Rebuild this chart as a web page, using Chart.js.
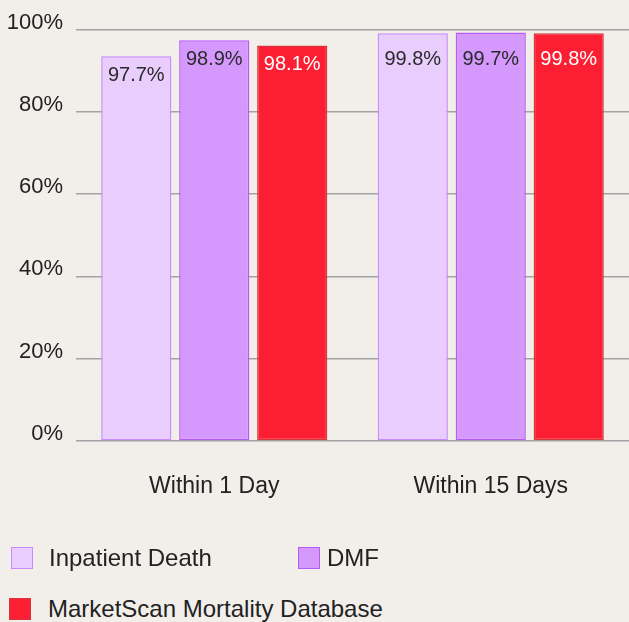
<!DOCTYPE html>
<html>
<head>
<meta charset="utf-8">
<script src="https://cdn.jsdelivr.net/npm/chart.js@4"></script>
<style>
  html, body { margin: 0; padding: 0; background: #f2efea; }
  body { width: 629px; height: 622px; position: relative; overflow: hidden; font-family: "Liberation Sans", Arial, sans-serif; color: #222; }
  #wrap { position: absolute; left: 0; top: 0; width: 629px; height: 552px; }
  .lg-box { position: absolute; width: 20px; height: 20px; border-width: 1.5px; border-style: solid; }
  .lg-text { position: absolute; font-size: 24px; line-height: 26px; white-space: nowrap; color: #222; }
</style>
</head>
<body>
<div id="wrap"><canvas id="c" width="629" height="552"></canvas></div>
<div id="legend"></div>
<script>
// ---- data ----
const categories = ["Within 1 Day", "Within 15 Days"];
const seriesNames = ["Inpatient Death", "DMF", "MarketScan Mortality Database"];
const inpatientDeath = [93.5, 99.1];
const dmf = [97.4, 99.3];
const marketScan = [96.1, 99.1];
const inpatientLabels = ["97.7%", "99.8%"];
const dmfLabels = ["98.9%", "99.7%"];
const marketScanLabels = ["98.1%", "99.8%"];
const yTicks = [0, 20, 40, 60, 80, 100];

// ---- styles ----
const fills = ["#e9cdfd", "#d598fd", "#fc1e33"];
const borders = ["#c98bff", "#b55cf6", "#d9343b"];
const labelColors = ["#2a2a2a", "#2a2a2a", "#ffffff"];
const values = [inpatientDeath, dmf, marketScan];
const labelTexts = [inpatientLabels, dmfLabels, marketScanLabels];

const barLabelPlugin = {
  id: 'barLabels',
  afterDatasetsDraw(chart) {
    const ctx = chart.ctx;
    ctx.save();
    ctx.font = '20px "Liberation Sans", Arial, sans-serif';
    ctx.textAlign = 'center';
    ctx.textBaseline = 'middle';
    chart.data.datasets.forEach((ds, i) => {
      const meta = chart.getDatasetMeta(i);
      meta.data.forEach((el, j) => {
        const y = Math.max(el.y + 19, chart.chartArea.top + 30);
        ctx.fillStyle = labelColors[i];
        ctx.fillText(labelTexts[i][j], el.x, y);
      });
    });
    ctx.restore();
  }
};

new Chart(document.getElementById('c'), {
  type: 'bar',
  data: {
    labels: categories,
    datasets: seriesNames.map((name, i) => ({
      label: name,
      data: values[i],
      backgroundColor: fills[i],
      borderColor: borders[i],
      borderWidth: 1.5,
      borderSkipped: false,
      categoryPercentage: 0.846,
      barPercentage: 0.9
    }))
  },
  options: {
    responsive: false,
    animation: false,
    layout: { padding: { top: 29.5, left: 7, right: 0, bottom: 19.5 } },
    plugins: { legend: { display: false }, tooltip: { enabled: false } },
    scales: {
      x: {
        grid: { display: false, drawTicks: false },
        border: { display: false },
        ticks: {
          color: '#222',
          font: { family: '"Liberation Sans", Arial, sans-serif', size: 23 },
          padding: 32,
          maxRotation: 0
        }
      },
      y: {
        min: 0,
        max: 100,
        afterBuildTicks(axis) { axis.ticks = yTicks.map(v => ({ value: v })); },
        afterFit(axis) { axis.width = 69; axis.paddingTop = 0; axis.paddingBottom = 0; },
        grid: { color: '#a3a3a3', lineWidth: 1.5, drawTicks: false },
        border: { display: false },
        ticks: {
          color: '#222',
          font: { family: '"Liberation Sans", Arial, sans-serif', size: 22 },
          padding: 13,
          labelOffset: -7,
          callback: v => v + '%'
        }
      }
    }
  },
  plugins: [barLabelPlugin]
});

// ---- legend (HTML, built from series arrays) ----
const legendPos = [
  { box: [11, 547], text: [49, 545] },
  { box: [298, 547], text: [327, 545] },
  { box: [9, 598], text: [48, 596] }
];
const lg = document.getElementById('legend');
seriesNames.forEach((name, i) => {
  const b = document.createElement('div');
  b.className = 'lg-box';
  b.style.left = legendPos[i].box[0] + 'px';
  b.style.top = legendPos[i].box[1] + 'px';
  b.style.background = fills[i];
  b.style.borderColor = borders[i];
  lg.appendChild(b);
  const t = document.createElement('div');
  t.className = 'lg-text';
  t.style.left = legendPos[i].text[0] + 'px';
  t.style.top = legendPos[i].text[1] + 'px';
  t.textContent = name;
  lg.appendChild(t);
});
</script>
</body>
</html>
